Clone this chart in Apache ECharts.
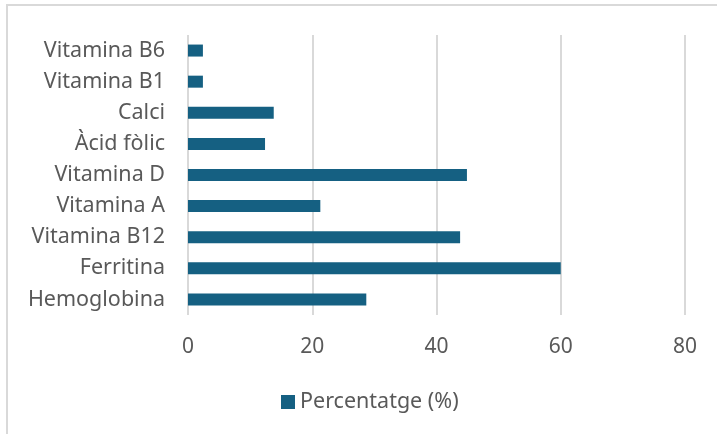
<!DOCTYPE html>
<html>
<head>
<meta charset="utf-8">
<script src="https://cdn.jsdelivr.net/npm/echarts@6/dist/echarts.min.js"></script>
<style>
  html, body { margin: 0; padding: 0; background: #fff; }
  #chart { width: 717px; height: 434px; }
</style>
</head>
<body>
<div id="chart"></div>
<script>
// bottom to top, as the category axis draws them
const categories = ['Hemoglobina', 'Ferritina', 'Vitamina B12', 'Vitamina A', 'Vitamina D', 'Àcid fòlic', 'Calci', 'Vitamina B1', 'Vitamina B6']
const values = [28.7, 60, 43.8, 21.3, 44.9, 12.4, 13.8, 2.4, 2.4]
const seriesName = 'Percentatge (%)'
const xTicks = { min: 0, max: 80, interval: 20 }

const textColor = '#595959'
const gridColor = '#d9d9d9'
const barColor = '#156082'
const font = 'Noto Sans'

const chart = echarts.init(document.getElementById('chart'))

chart.setOption({
  backgroundColor: '#fff',
  animation: false,
  textStyle: { fontFamily: font },
  graphic: [
    {
      type: 'rect',
      shape: { x: 7, y: 5, width: 800, height: 500 },
      style: { fill: 'none', stroke: gridColor, lineWidth: 2 },
      silent: true
    }
  ],
  grid: { left: 188, right: 32, top: 35, bottom: 119 },
  legend: {
    data: [seriesName],
    left: 281,
    top: 391,
    padding: 0,
    itemWidth: 14,
    itemHeight: 14,
    itemGap: 5,
    icon: 'rect',
    textStyle: { color: textColor, fontSize: 21.5, fontFamily: font }
  },
  xAxis: {
    type: 'value',
    min: xTicks.min,
    max: xTicks.max,
    interval: xTicks.interval,
    axisLine: { show: false },
    axisTick: { show: false },
    splitLine: { lineStyle: { color: gridColor, width: 2 } },
    axisLabel: { color: textColor, fontSize: 21, margin: 22, fontFamily: font }
  },
  yAxis: {
    type: 'category',
    data: categories,
    axisLine: { show: false },
    axisTick: { show: false },
    axisLabel: { color: textColor, fontSize: 21.5, margin: 23, fontFamily: font }
  },
  series: [
    {
      name: seriesName,
      type: 'bar',
      data: values,
      barWidth: 12,
      itemStyle: { color: barColor }
    }
  ]
})
</script>
</body>
</html>
